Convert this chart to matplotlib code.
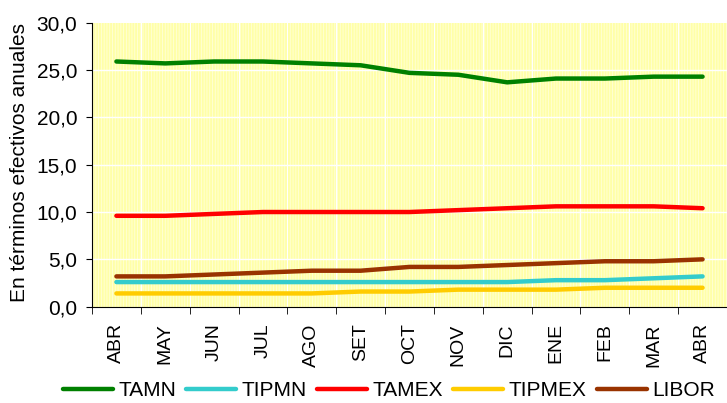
import matplotlib.pyplot as plt
from matplotlib.patches import Rectangle
from matplotlib.ticker import FuncFormatter, MultipleLocator

plt.rcParams['font.family'] = ['Liberation Sans', 'DejaVu Sans']
plt.rcParams['hatch.linewidth'] = 0.6

meses = ["ABR", "MAY", "JUN", "JUL", "AGO", "SET", "OCT", "NOV", "DIC",
         "ENE", "FEB", "MAR", "ABR"]
tamn = [25.9, 25.7, 25.9, 25.9, 25.7, 25.5, 24.7, 24.5, 23.7, 24.1, 24.1, 24.3, 24.3]
tipmn = [2.6, 2.6, 2.6, 2.6, 2.6, 2.6, 2.6, 2.6, 2.6, 2.8, 2.8, 3.0, 3.2]
tamex = [9.6, 9.6, 9.8, 10.0, 10.0, 10.0, 10.0, 10.2, 10.4, 10.6, 10.6, 10.6, 10.4]
tipmex = [1.4, 1.4, 1.4, 1.4, 1.4, 1.6, 1.6, 1.8, 1.8, 1.8, 2.0, 2.0, 2.0]
libor = [3.2, 3.2, 3.4, 3.6, 3.8, 3.8, 4.2, 4.2, 4.4, 4.6, 4.8, 4.8, 5.0]

series = [("TAMN", tamn, "#008000"), ("TIPMN", tipmn, "#33cccc"),
          ("TAMEX", tamex, "#ff0000"), ("TIPMEX", tipmex, "#ffcc00"),
          ("LIBOR", libor, "#993300")]

fig = plt.figure(figsize=(7.27, 4.03), dpi=100)
ax = fig.add_axes([0.1265, 0.239, 0.8735, 0.7047])

x = list(range(len(meses)))
ax.set_xlim(-0.5, len(meses) - 0.5)
ax.set_ylim(0, 30)

# fondo amarillo rayado
ax.set_facecolor("#ffffa8")
ax.add_patch(Rectangle((-0.5, 0), len(meses), 30, facecolor="none",
                       edgecolor="#ffffd8", hatch="||||||", lw=0, zorder=0))

for v in range(5, 30, 5):
    ax.axhline(v, color="white", lw=1, zorder=1)
for i in range(1, len(meses)):
    ax.axvline(i - 0.5, color="white", lw=0.8, zorder=1)

for name, vals, col in series:
    ax.plot(x, vals, color=col, lw=3.2, label=name, zorder=3,
            solid_capstyle="round")

ax.set_xticks(x)
ax.set_xticklabels(meses, rotation=90, fontsize=14)
ax.set_xticks([i - 0.5 for i in range(len(meses) + 1)], minor=True)
ax.tick_params(axis="x", which="major", length=0, pad=12)
ax.tick_params(axis="x", which="minor", length=5, direction="out")
ax.yaxis.set_major_locator(MultipleLocator(5))
ax.yaxis.set_major_formatter(FuncFormatter(lambda v, p: f"{v:.1f}".replace(".", ",")))
ax.tick_params(axis="y", labelsize=15, length=4.5, pad=6)

fig.text(20 / 727, 1 - 162 / 403, "En términos efectivos anuales", fontsize=15,
         rotation=90, ha="center", va="center")

for s in ["top", "right"]:
    ax.spines[s].set_visible(False)

fig.legend(loc="center", bbox_to_anchor=(0.535, 1 - 391 / 403), ncol=5,
           frameon=False, fontsize=15, handlelength=2.4, columnspacing=0.5,
           handletextpad=0.25, borderpad=0)

fig.savefig("out.png", dpi=100)
